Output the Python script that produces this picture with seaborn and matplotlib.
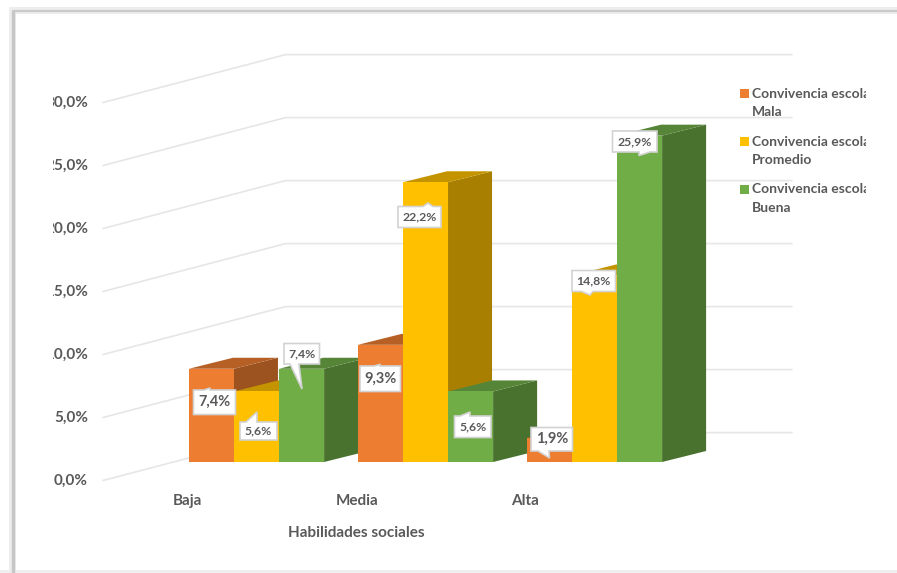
# ============================================
# HABILIDADES SOCIALES / CONVIVENCIA ESCOLAR (barras 3D)
# ============================================

import matplotlib
matplotlib.use("Agg")

import matplotlib.pyplot as plt
import matplotlib.colors as mcolors
from matplotlib.patches import Polygon, Rectangle
import pandas as pd
import seaborn as sns

# ============================================
# DATA
# ============================================

categories = ["Baja", "Media", "Alta"]
series_names = ["Mala", "Promedio", "Buena"]
mala = [7.4, 9.3, 1.9]
promedio = [5.6, 22.2, 14.8]
buena = [7.4, 5.6, 25.9]
y_ticks = [0, 5, 10, 15, 20, 25, 30]

colors = ["#ED7D31", "#FFC000", "#70AD47"]

df = pd.DataFrame({
    "habilidades": categories * 3,
    "convivencia": [s for s in series_names for _ in categories],
    "pct": mala + promedio + buena,
})

# ============================================
# FIGURE (ejes a pantalla completa)
# ============================================

W, H = 897, 573
PX_PER_CAT = 169.0
PX_PER_PCT = 12.6
X0_PX = 256.5   # centro de "Baja"
Y0_PX = 462.0   # base de las barras

sns.set_theme(style="white")
plt.rcParams["font.family"] = ["Lato", "DejaVu Sans"]

fig = plt.figure(figsize=(W / 100, H / 100), dpi=100, facecolor="white")
ax = fig.add_axes([0, 0, 1, 1])

sns.barplot(
    data=df, x="habilidades", y="pct", hue="convivencia",
    hue_order=series_names, palette=colors, order=categories,
    width=0.8, gap=0, saturation=1, legend=False, ax=ax,
)

ax.set_xlim(-X0_PX / PX_PER_CAT, (W - X0_PX) / PX_PER_CAT)
ax.set_ylim((Y0_PX - H) / PX_PER_PCT, Y0_PX / PX_PER_PCT)
ax.set_axis_off()

# capa en pixeles para textos y marco
over = fig.add_axes([0, 0, 1, 1], facecolor="none")
over.set_xlim(0, W)
over.set_ylim(H, 0)
over.set_axis_off()

# ============================================
# GRIDLINES (piso y pared del fondo)
# ============================================

depth_x = 44 / PX_PER_CAT
depth_y = 11 / PX_PER_PCT

grid_x = [(103 - X0_PX) / PX_PER_CAT, (285.5 - X0_PX) / PX_PER_CAT, (792 - X0_PX) / PX_PER_CAT]
front_off = (Y0_PX - 480.5) / PX_PER_PCT
back_off = (Y0_PX - 432.6) / PX_PER_PCT

for t in y_ticks:
    ax.plot(grid_x, [t + front_off, t + back_off, t + back_off],
            color="#E6E6E6", lw=1.2, zorder=0.5, solid_joinstyle="miter")

# ============================================
# CARAS 3D DE LAS BARRAS
# ============================================


def shade(color, factor):
    r, g, b = mcolors.to_rgb(color)
    return (r * factor, g * factor, b * factor)


bars = sorted(ax.patches, key=lambda p: p.get_x())

for i, bar in enumerate(bars):
    base_color = bar.get_facecolor()
    x0 = bar.get_x()
    x1 = x0 + bar.get_width()
    top = bar.get_height()
    z = 2 + i

    side = Polygon(
        [(x1, 0), (x1 + depth_x, depth_y), (x1 + depth_x, top + depth_y), (x1, top)],
        facecolor=shade(base_color, 0.66), edgecolor="none", zorder=z,
    )
    roof = Polygon(
        [(x0, top), (x0 + depth_x, top + depth_y), (x1 + depth_x, top + depth_y), (x1, top)],
        facecolor=shade(base_color, 0.77), edgecolor="none", zorder=z,
    )
    ax.add_patch(side)
    ax.add_patch(roof)
    bar.set_zorder(z + 0.5)
    bar.set_linewidth(0)

# ============================================
# TEXTOS DE EJES
# ============================================

TEXT_COLOR = "#595959"
clip_left = Rectangle((52.5, 0), W, H, transform=over.transData)

for t in y_ticks:
    y_px = 481 - t * PX_PER_PCT
    label = over.text(88, y_px, f"{t:.1f}%".replace(".", ","), ha="right", va="center",
                      fontsize=11, color=TEXT_COLOR, fontweight="bold")
    label.set_clip_path(clip_left)
    label.set_clip_on(True)

for name, x_px in zip(categories, [187, 357, 525]):
    over.text(x_px, 501, name, ha="center", va="center",
              fontsize=11, color=TEXT_COLOR, fontweight="bold")

over.text(356.5, 533, "Habilidades sociales", ha="center", va="center",
          fontsize=11, color=TEXT_COLOR, fontweight="bold")

# ============================================
# LEYENDA
# ============================================

clip_legend = Rectangle((0, 0), 865.5, H, transform=over.transData)

for name, color, y_px in zip(series_names, colors, [93.5, 141.5, 189]):
    over.add_patch(Rectangle((740, y_px - 4.5), 8.5, 9, facecolor=color, edgecolor="none"))
    first = over.text(752, y_px, "Convivencia escolar", ha="left", va="center",
                      fontsize=10, color=TEXT_COLOR, fontweight="bold")
    first.set_clip_path(clip_legend)
    first.set_clip_on(True)
    over.text(752, y_px + 19, name, ha="left", va="center",
              fontsize=10, color=TEXT_COLOR, fontweight="bold")

# ============================================
# ETIQUETAS (callouts)
# ============================================

# caja (x0, x1, y0, y1), lado del piquito, base del piquito, punta, tamano de letra
callouts = [
    (mala[0], (193.5, 235.5, 390, 414.5), "top", (204, 210), (210, 388), 10.5),
    (promedio[0], (240, 277, 422, 440), "top", (246, 257), (257, 412), 8.8),
    (buena[0], (284, 319.5, 343.5, 364), "bottom", (290, 299), (302, 389), 8.8),
    (mala[1], (360, 400.5, 366, 391.5), "top", (374, 380), (380, 364.5), 10.5),
    (promedio[1], (398, 441, 206.5, 227.5), "top", (423, 433), (428, 203), 8.8),
    (buena[1], (454.5, 491, 416, 437.5), "top", (460, 470), (470, 412), 8.8),
    (mala[2], (531, 572.5, 427.5, 451), "bottom", (538, 549), (549.5, 458), 10.5),
    (promedio[2], (572, 615.5, 270.5, 291.5), "bottom", (581.5, 593), (590, 295), 8.8),
    (buena[2], (612.5, 657, 131, 152), "bottom", (639, 650), (639, 155.5), 8.8),
]

for value, box, where, base, tip, size in callouts:
    x0, x1, y0, y1 = box
    if where == "top":
        pts = [(x0, y0), (base[0], y0), tip, (base[1], y0), (x1, y0), (x1, y1), (x0, y1)]
    else:
        pts = [(x0, y0), (x1, y0), (x1, y1), (base[1], y1), tip, (base[0], y1), (x0, y1)]
    over.add_patch(Polygon(pts, closed=True, facecolor="white", edgecolor="#D2D2D2", lw=1.2, zorder=5))
    over.text((x0 + x1) / 2, (y0 + y1) / 2, f"{value:.1f}%".replace(".", ","),
              ha="center", va="center", fontsize=size, color=TEXT_COLOR,
              fontweight="bold", zorder=6)

# ============================================
# MARCO DE LA IMAGEN (con sombra suave)
# ============================================

over.add_patch(Rectangle((0, 570), W, 3, facecolor="#F0F0F0", edgecolor="none", zorder=7))
over.plot([12, 12, W], [H, 10, 10], color="#EDEDED", lw=5, solid_joinstyle="miter", zorder=7)
over.plot([13, 13], [H, 11], color="#C6C6C6", lw=2.4, zorder=8)
over.plot([13, W], [11, 11], color="#CACACA", lw=1.6, zorder=8)

fig.savefig("out.png", dpi=100)
